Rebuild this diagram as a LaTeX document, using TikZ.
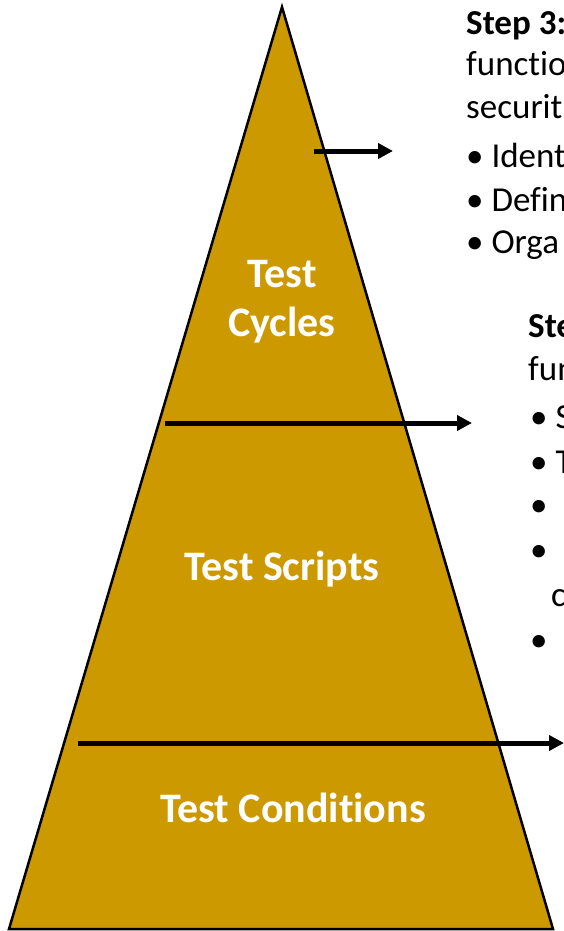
\documentclass[tikz,border=0pt]{standalone}
\usepackage{fontspec}
\setmainfont[Ligatures=NoCommon]{Carlito}
\usetikzlibrary{arrows.meta}
\definecolor{gold}{HTML}{CC9900}
\tikzset{
  level/.style={text=white, font=\fontsize{42}{50}\selectfont\bfseries, inner sep=0pt, anchor=base},
  desc/.style={text=black, font=\fontsize{35}{42}\selectfont, inner sep=0pt, anchor=base west},
  descb/.style={desc, font=\fontsize{35}{42}\selectfont\bfseries},
  pointer/.style={line width=5pt, -{Triangle[length=15pt,width=15pt]}},
}
\begin{document}
\begin{tikzpicture}[x=1pt,y=-1pt]
\useasboundingbox (0,0) rectangle (564,931);
\fill[white] (0,0) rectangle (564,931);
\clip (0,0) rectangle (564,931);
% pyramid
\draw[fill=gold, line width=2.5pt, line join=miter] (282,7) -- (553,929) -- (9,929) -- cycle;
% level labels
\node[level] (cyc1) at (282,287) {Test};
\node[level] (cyc2) at (282,336) {Cycles};
\node[level] (scr) at (282,580) {Test Scripts};
\node[level] (con) at (293,822) {Test Conditions};
% arrows
\coordinate (a1s) at (314,151); \coordinate (a1e) at (393,151);
\coordinate (a2s) at (165,423); \coordinate (a2e) at (472,423);
\coordinate (a3s) at (78,743);  \coordinate (a3e) at (564,743);
\draw[pointer] (a1s) -- (a1e);
\draw[pointer] (a2s) -- (a2e);
\draw[pointer] (a3s) -- (a3e);
% step 3 text
\node[descb] (s3a) at (466,35) {Step 3:};
\node[desc] (s3b) at (466,76) {functio};
\node[desc] (s3c) at (466,118) {securit};
\node[desc] (s3d) at (466,167) {• Ident};
\node[desc] (s3e) at (466,211) {• Defin};
\node[desc] (s3f) at (466,253) {• Orga};
% step 2 text
\node[descb] (s2a) at (528,337) {Ste};
\node[desc] (s2b) at (528,380) {fun};
\node[desc] (s2c) at (530,428) {• S};
\node[desc] (s2d) at (530,473) {• T};
\node[desc] (s2e) at (530,516) {•};
\node[desc] (s2f) at (530,561) {•};
\node[desc] (s2g) at (551,606) {c};
\node[desc] (s2h) at (530,651) {•};
\end{tikzpicture}
\end{document}
